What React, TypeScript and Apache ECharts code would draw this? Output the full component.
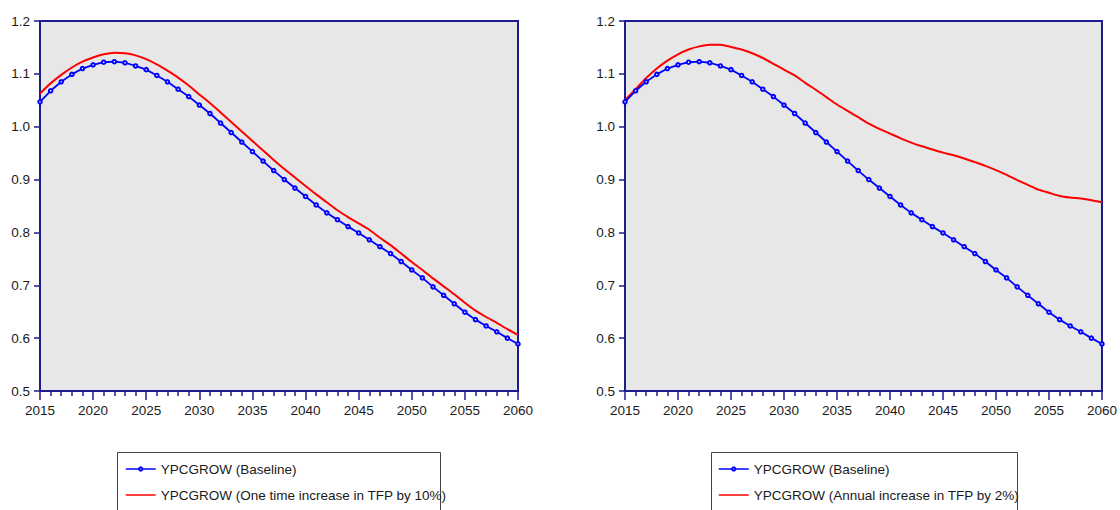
import React, { useEffect, useRef } from "react";
import * as echarts from "echarts";

const years = [
  2015, 2016, 2017, 2018, 2019, 2020, 2021, 2022, 2023, 2024,
  2025, 2026, 2027, 2028, 2029, 2030, 2031, 2032, 2033, 2034,
  2035, 2036, 2037, 2038, 2039, 2040, 2041, 2042, 2043, 2044,
  2045, 2046, 2047, 2048, 2049, 2050, 2051, 2052, 2053, 2054,
  2055, 2056, 2057, 2058, 2059, 2060,
];

const baseline = [
  1.047, 1.068, 1.085, 1.099, 1.110, 1.117, 1.122, 1.123, 1.121, 1.115,
  1.108, 1.097, 1.085, 1.071, 1.057, 1.041, 1.025, 1.007, 0.989, 0.971,
  0.953, 0.935, 0.917, 0.900, 0.884, 0.868, 0.852, 0.837, 0.824, 0.811,
  0.799, 0.786, 0.773, 0.760, 0.745, 0.729, 0.714, 0.697, 0.681, 0.665,
  0.649, 0.635, 0.623, 0.612, 0.600, 0.589,
];

const oneTimeTFP = [
  1.063, 1.082, 1.098, 1.112, 1.123, 1.131, 1.137, 1.140, 1.139, 1.135,
  1.128, 1.118, 1.106, 1.093, 1.078, 1.061, 1.045, 1.027, 1.009, 0.991,
  0.973, 0.955, 0.937, 0.920, 0.904, 0.888, 0.872, 0.857, 0.842, 0.829,
  0.817, 0.805, 0.790, 0.776, 0.760, 0.744, 0.729, 0.713, 0.698, 0.683,
  0.667, 0.652, 0.640, 0.629, 0.617, 0.606,
];

const annualTFP = [
  1.050, 1.071, 1.092, 1.110, 1.125, 1.137, 1.146, 1.152, 1.155, 1.155,
  1.151, 1.146, 1.139, 1.130, 1.119, 1.108, 1.097, 1.083, 1.070, 1.056,
  1.042, 1.030, 1.018, 1.006, 0.996, 0.987, 0.978, 0.970, 0.963, 0.957,
  0.951, 0.946, 0.940, 0.933, 0.926, 0.918, 0.909, 0.899, 0.890, 0.881,
  0.875, 0.869, 0.866, 0.864, 0.861, 0.857,
];

const nameBase = "YPCGROW (Baseline)";
const nameOne = "YPCGROW (One time increase in TFP by 10%)";
const nameAnnual = "YPCGROW (Annual increase in TFP by 2%)";

const NAVY = "#1c1c8e";
const FONT = "Liberation Sans";

function pairs(vals: number[]) {
  return years.map((y, i) => [y, vals[i]]);
}

function xAxis(gridIndex: number) {
  return {
    type: "value",
    gridIndex,
    min: 2015,
    max: 2060,
    interval: 5,
    axisLine: { show: true, lineStyle: { color: NAVY, width: 2 } },
    axisTick: { show: true, length: 9, lineStyle: { color: NAVY, width: 1.5 } },
    minorTick: { show: true, splitNumber: 5, length: 5, lineStyle: { color: NAVY, width: 1.5 } },
    splitLine: { show: false },
    minorSplitLine: { show: false },
    axisLabel: {
      margin: 12,
      fontFamily: FONT,
      fontSize: 13.5,
      color: "#1a1a1a",
      formatter: (v: number) => String(v),
    },
  };
}

function yAxis(gridIndex: number) {
  return {
    type: "value",
    gridIndex,
    min: 0.5,
    max: 1.2,
    interval: 0.1,
    axisLine: { show: true, lineStyle: { color: NAVY, width: 2 } },
    axisTick: { show: true, length: 6, lineStyle: { color: NAVY, width: 1.5 } },
    splitLine: { show: false },
    axisLabel: {
      margin: 10,
      fontFamily: FONT,
      fontSize: 13.5,
      color: "#1a1a1a",
      formatter: (v: number) => v.toFixed(1),
    },
  };
}

function baseSeries(idx: number) {
  return {
    name: nameBase,
    type: "line",
    xAxisIndex: idx,
    yAxisIndex: idx,
    data: pairs(baseline),
    symbol: "emptyCircle",
    symbolSize: 3.5,
    showAllSymbol: true,
    lineStyle: { color: "#0000ff", width: 1.8 },
    itemStyle: { color: "#0000ff", borderWidth: 1 },
    z: 3,
  };
}

function redSeries(idx: number, name: string, vals: number[]) {
  return {
    name,
    type: "line",
    xAxisIndex: idx,
    yAxisIndex: idx,
    data: pairs(vals),
    symbol: "none",
    smooth: 0.2,
    lineStyle: { color: "#ff0000", width: 2 },
    itemStyle: { color: "#ff0000" },
    z: 2,
  };
}

function legend(left: number, redName: string) {
  return {
    orient: "vertical",
    left,
    top: 462,
    height: 46,
    padding: 0,
    itemWidth: 30,
    itemHeight: 4,
    itemGap: 12,
    selectedMode: false,
    data: [
      {
        name: nameBase,
        itemStyle: { color: "#0000ff", borderColor: "#0000ff", borderWidth: 0.8 },
        lineStyle: { color: "#0000ff", width: 1.5 },
      },
      {
        name: redName,
        itemStyle: { opacity: 0 },
        lineStyle: { color: "#ff0000", width: 1.5 },
      },
    ],
    textStyle: { fontFamily: FONT, fontSize: 13.5, color: "#1a1a1a" },
  };
}

export default function App() {
  const ref = useRef<HTMLDivElement | null>(null);

  useEffect(() => {
    if (!ref.current) return;
    const chart = echarts.init(ref.current, null, { renderer: "svg" });
    chart.setOption({
      animation: false,
      backgroundColor: "#ffffff",
      grid: [
        {
          left: 40, top: 21, width: 478, height: 370,
          show: true, backgroundColor: "#e7e7e7", borderColor: NAVY, borderWidth: 2,
        },
        {
          left: 625, top: 21, width: 478, height: 370,
          show: true, backgroundColor: "#e7e7e7", borderColor: NAVY, borderWidth: 2,
        },
      ],
      xAxis: [xAxis(0), xAxis(1)],
      yAxis: [yAxis(0), yAxis(1)],
      legend: [legend(125, nameOne), legend(718, nameAnnual)],
      graphic: [
        {
          type: "rect",
          z: 0,
          shape: { x: 117.5, y: 452.5, width: 323, height: 80 },
          style: { fill: "#ffffff", stroke: "#444444", lineWidth: 1 },
        },
        {
          type: "rect",
          z: 0,
          shape: { x: 711.5, y: 452.5, width: 306, height: 80 },
          style: { fill: "#ffffff", stroke: "#444444", lineWidth: 1 },
        },
      ],
      series: [
        redSeries(0, nameOne, oneTimeTFP),
        baseSeries(0),
        redSeries(1, nameAnnual, annualTFP),
        baseSeries(1),
      ],
    });
    return () => chart.dispose();
  }, []);

  return (
    <div
      ref={ref}
      style={{ position: "fixed", left: 0, top: 0, width: 1120, height: 510 }}
    />
  );
}
